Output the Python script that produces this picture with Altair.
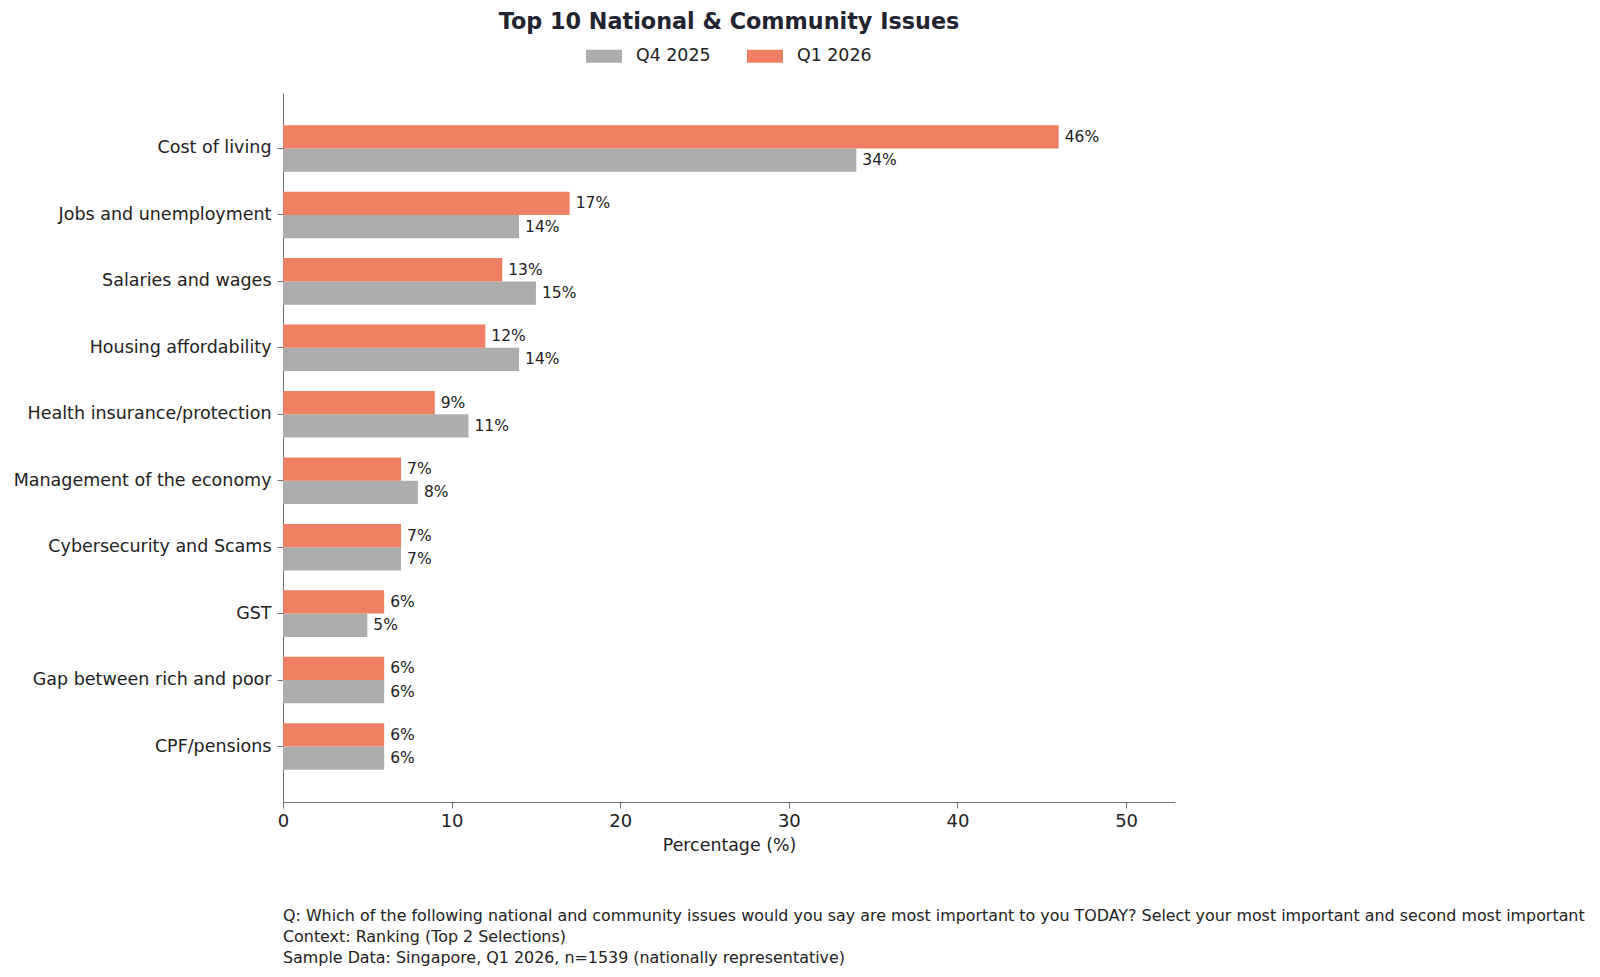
import altair as alt
import pandas as pd

# ---- data ----
categories = [
    "Cost of living",
    "Jobs and unemployment",
    "Salaries and wages",
    "Housing affordability",
    "Health insurance/protection",
    "Management of the economy",
    "Cybersecurity and Scams",
    "GST",
    "Gap between rich and poor",
    "CPF/pensions",
]
q4_2025 = [34, 14, 15, 14, 11, 8, 7, 5, 6, 6]
q1_2026 = [46, 17, 13, 12, 9, 7, 7, 6, 6, 6]
series_names = ["Q4 2025", "Q1 2026"]
series_colors = ["#adadad", "#ef7f62"]
x_ticks = [0, 10, 20, 30, 40, 50]
title_text = "Top 10 National & Community Issues"
x_title = "Percentage (%)"
footnote_lines = [
    "Q: Which of the following national and community issues would you say are most important to you TODAY? Select your most important and second most important",
    "Context: Ranking (Top 2 Selections)",
    "Sample Data: Singapore, Q1 2026, n=1539 (nationally representative)",
]

rows = []
for c, a, b in zip(categories, q4_2025, q1_2026):
    rows.append({"issue": c, "period": series_names[0], "value": a, "label": f"{a}%"})
    rows.append({"issue": c, "period": series_names[1], "value": b, "label": f"{b}%"})
df = pd.DataFrame(rows)
foot_df = pd.DataFrame({"t": ["\n".join(footnote_lines)]})

TXT = "#222222"
AX = "#707070"

y_enc = alt.Y(
    "issue:N",
    sort=categories,
    scale=alt.Scale(paddingInner=0.3, paddingOuter=0.485),
    axis=alt.Axis(
        title=None,
        labelFontSize=17.5,
        labelColor=TXT,
        tickSize=6,
        labelPadding=6,
        domainColor=AX,
        tickColor=AX,
        labelLimit=500,
    ),
)
yoff_enc = alt.YOffset(
    "period:N",
    sort=[series_names[1], series_names[0]],
    scale=alt.Scale(paddingInner=0, paddingOuter=0),
)
x_enc = alt.X(
    "value:Q",
    scale=alt.Scale(domain=[0, 52.9], nice=False, zero=True),
    axis=alt.Axis(
        values=x_ticks,
        format="d",
        title=x_title,
        titleFontSize=17.4,
        titleFontWeight="normal",
        titleColor=TXT,
        titlePadding=6,
        labelFontSize=18,
        labelColor=TXT,
        labelPadding=4,
        labelFlush=False,
        tickSize=6,
        domainColor=AX,
        tickColor=AX,
        grid=False,
    ),
)

bars = alt.Chart(df).mark_bar().encode(
    x=x_enc,
    y=y_enc,
    yOffset=yoff_enc,
    color=alt.Color(
        "period:N",
        scale=alt.Scale(domain=series_names, range=series_colors),
        legend=alt.Legend(
            title=None,
            orient="none",
            legendX=303,
            legendY=-55,
            direction="horizontal",
            symbolType="M-1,-0.36L1,-0.36L1,0.36L-1,0.36Z",
            symbolSize=1296,
            symbolStrokeWidth=0,
            labelFontSize=17.4,
            labelColor=TXT,
            labelOffset=14,
            columnPadding=36,
            padding=0,
        ),
    ),
)

labels = alt.Chart(df).mark_text(
    align="left", baseline="middle", dx=6, fontSize=15.5, color=TXT
).encode(
    x=alt.X("value:Q"),
    y=alt.Y("issue:N", sort=categories),
    yOffset=alt.YOffset("period:N", sort=[series_names[1], series_names[0]]),
    text="label:N",
)

foot = alt.Chart(foot_df).mark_text(
    align="left", baseline="alphabetic", lineBreak="\n", lineHeight=21,
    fontSize=15.9, color=TXT
).encode(x=alt.value(0), y=alt.value(828), text="t:N")

chart = (
    alt.layer(bars, labels, foot)
    .properties(
        width=892,
        height=709,
        title=alt.TitleParams(
            title_text,
            fontSize=22.3,
            fontWeight="bold",
            color="#1f2430",
            anchor="middle",
            frame="group",
            offset=5,
        ),
        padding={"left": 5, "top": 2, "right": 0, "bottom": 0},
    )
    .configure(font="DejaVu Sans")
    .configure_view(stroke=None)
)

chart.save("out.html", embed_options={"renderer": "svg", "actions": False})
